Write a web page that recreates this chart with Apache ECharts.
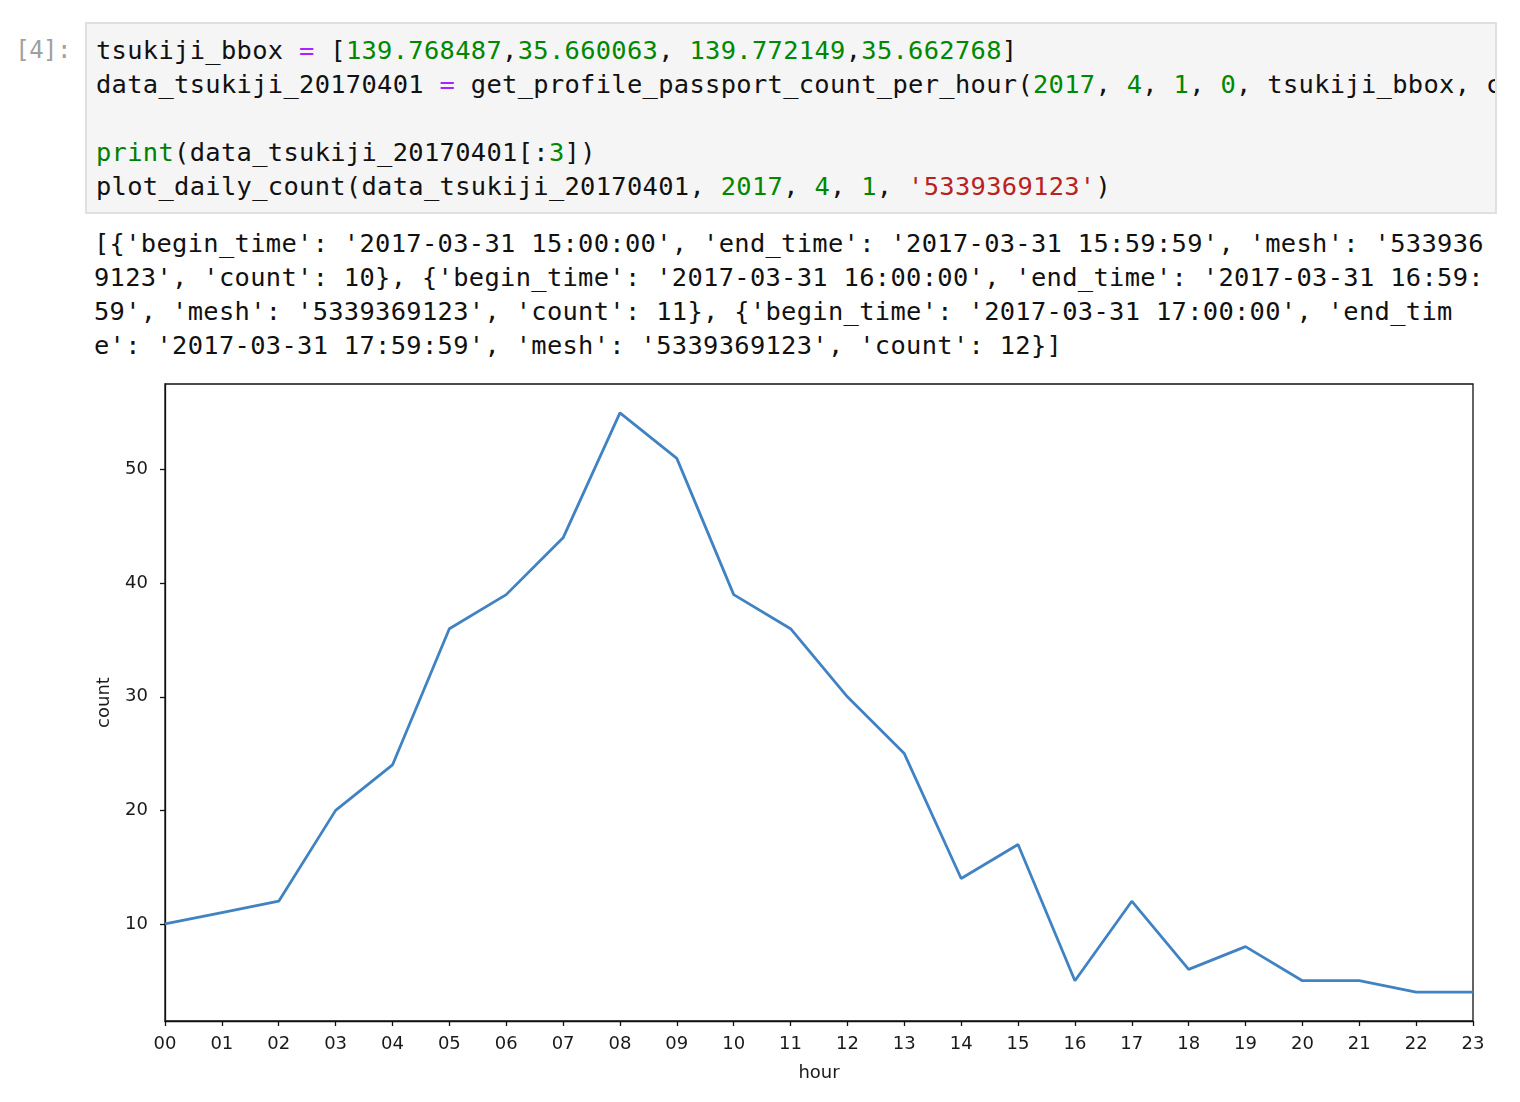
<!DOCTYPE html>
<html>
<head>
<meta charset="utf-8">
<script src="https://cdn.jsdelivr.net/npm/echarts@6/dist/echarts.min.js"></script>
<style>
  html, body { margin:0; padding:0; background:#fff; width:1520px; height:1102px; overflow:hidden; }
  .prompt { position:absolute; left:0; top:33px; width:71px; text-align:right;
    font-family:"DejaVu Sans Mono", monospace; font-size:24px; line-height:34px; color:#a0a0a0; letter-spacing:-0.5px; }
  .cell { position:absolute; left:85px; top:22px; width:1408px; height:188px;
    background:#f5f5f5; border:2px solid #e0e0e0; overflow:hidden; }
  pre { margin:0; font-family:"DejaVu Sans Mono", monospace; font-size:25.4px; letter-spacing:0.33px; line-height:34px; color:#111; white-space:pre; }
  .cell pre { position:absolute; left:9px; top:9px; }
  .out { position:absolute; left:94px; top:226px; }
  .o { color:#aa22ff; } .n { color:#008800; } .s { color:#ba2121; } .b { color:#008000; }
  #chart { position:absolute; left:0; top:370px; width:1520px; height:732px; }
</style>
</head>
<body>
<div class="prompt">[4]:</div>
<div class="cell"><pre>tsukiji_bbox <span class="o">=</span> [<span class="n">139.768487</span>,<span class="n">35.660063</span>, <span class="n">139.772149</span>,<span class="n">35.662768</span>]
data_tsukiji_20170401 <span class="o">=</span> get_profile_passport_count_per_hour(<span class="n">2017</span>, <span class="n">4</span>, <span class="n">1</span>, <span class="n">0</span>, tsukiji_bbox, count_type)

<span class="b">print</span>(data_tsukiji_20170401[:<span class="n">3</span>])
plot_daily_count(data_tsukiji_20170401, <span class="n">2017</span>, <span class="n">4</span>, <span class="n">1</span>, <span class="s">'5339369123'</span>)</pre></div>
<pre class="out">[{'begin_time': '2017-03-31 15:00:00', 'end_time': '2017-03-31 15:59:59', 'mesh': '533936
9123', 'count': 10}, {'begin_time': '2017-03-31 16:00:00', 'end_time': '2017-03-31 16:59:
59', 'mesh': '5339369123', 'count': 11}, {'begin_time': '2017-03-31 17:00:00', 'end_tim
e': '2017-03-31 17:59:59', 'mesh': '5339369123', 'count': 12}]</pre>
<div id="chart"></div>
<script>
const hours = ['00','01','02','03','04','05','06','07','08','09','10','11','12','13','14','15','16','17','18','19','20','21','22','23'];
const counts = [10, 11, 12, 20, 24, 36, 39, 44, 55, 51, 39, 36, 30, 25, 14, 17, 5, 12, 6, 8, 5, 5, 4, 4];
const yTicks = [10, 20, 30, 40, 50];

const chart = echarts.init(document.getElementById('chart'), null, { renderer: 'canvas' });
const labelFont = { fontFamily: 'DejaVu Sans', fontSize: 18, color: '#1a1a1a' };
chart.setOption({
  animation: false,
  grid: { left: 165, top: 14, width: 1308, height: 637, show: true, borderColor: '#111', borderWidth: 1.3, backgroundColor: 'transparent' },
  xAxis: {
    type: 'category', data: hours, boundaryGap: false,
    name: 'hour', nameLocation: 'middle', nameGap: 43,
    nameTextStyle: labelFont,
    axisLine: { lineStyle: { color: '#111', width: 1.3 } },
    axisTick: { show: true, length: 5, alignWithLabel: true, interval: 0, lineStyle: { color: '#111', width: 1.3 } },
    axisLabel: Object.assign({ interval: 0, margin: 14 }, labelFont),
    splitLine: { show: false }
  },
  yAxis: {
    type: 'value', min: 1.45, max: 57.55,
    name: 'count', nameLocation: 'middle', nameGap: 52, nameRotate: 90,
    nameTextStyle: labelFont,
    axisLine: { show: true, lineStyle: { color: '#111', width: 1.3 } },
    axisTick: { show: true, length: 5, customValues: yTicks, lineStyle: { color: '#111', width: 1.3 } },
    axisLabel: Object.assign({ customValues: yTicks, margin: 17 }, labelFont),
    splitLine: { show: false }
  },
  series: [{
    type: 'line', data: counts, symbol: 'none', smooth: false,
    lineStyle: { color: '#4183c2', width: 2.8 }
  }]
});
</script>
</body>
</html>
